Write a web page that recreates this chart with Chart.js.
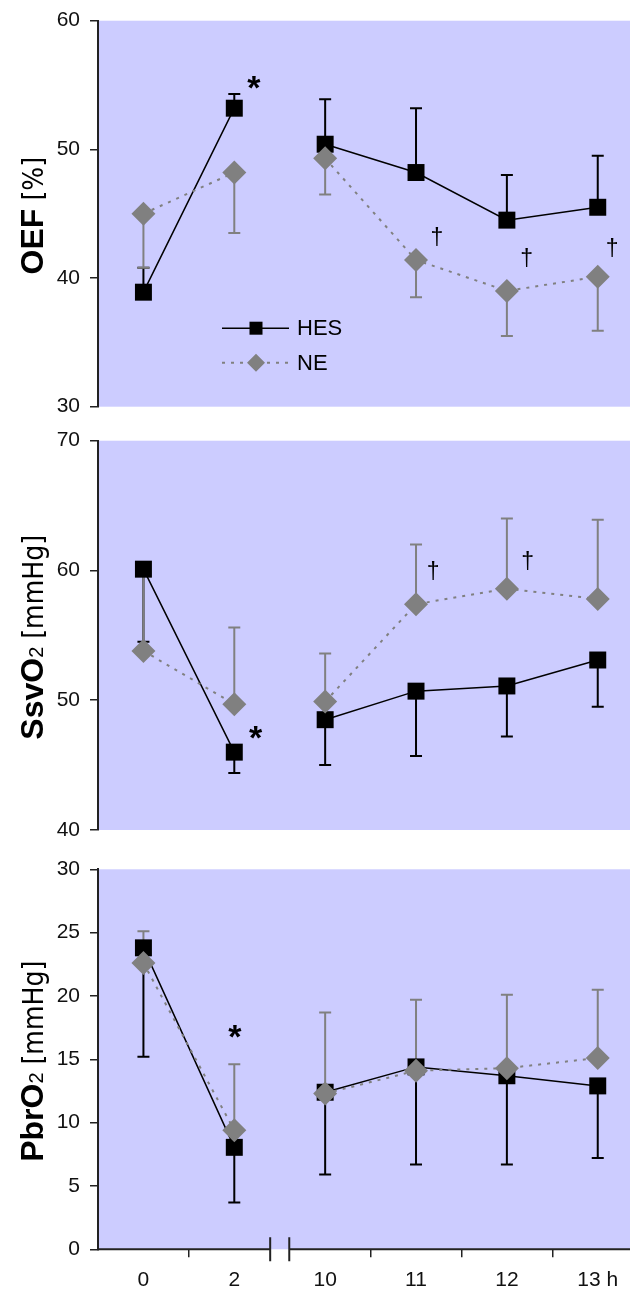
<!DOCTYPE html>
<html>
<head>
<meta charset="utf-8">
<script src="https://cdn.jsdelivr.net/npm/chart.js@4.4.0/dist/chart.umd.min.js"></script>
<style>
  html, body { margin: 0; padding: 0; background: #fff; overflow: hidden; }
  canvas { position: absolute; left: 0; display: block; }
</style>
</head>
<body>
<canvas id="oefChart" width="630" height="420" style="top:0"></canvas>
<canvas id="ssvChart" width="630" height="420" style="top:425px"></canvas>
<canvas id="pbrChart" width="630" height="442" style="top:850px"></canvas>
<script>
// time points (h); the axis is broken between "2" and "10"
const timeLabels = ["0", "2", "10", "11", "12", "13 h"];
const xTicks = [0, 0.5, 1, 2, 2.5, 3, 3.5, 4, 4.5, 5];

// OEF [%]
const oefHes    = [38.9, 53.2, 50.4, 48.2, 44.5, 45.5];
const oefHesBar = [40.8, 54.3, 53.9, 53.2, 48.0, 49.5];
const oefNe     = [45.0, 48.2, 49.3, 41.4, 39.0, 40.1];
const oefNeBar  = [40.8, 43.5, 46.5, 38.5, 35.5, 35.9];
const oefMarks  = [[1.22, 55.2, "*"], [3.23, 43.2, "†"], [4.22, 41.6, "†"], [5.16, 42.4, "†"]];

// SsvO2 [mmHg]
const ssvHes    = [60.1, 46.0, 48.5, 50.7, 51.1, 53.1];
const ssvHesBar = [54.5, 44.4, 45.0, 45.7, 47.2, 49.5];
const ssvNe     = [53.8, 49.7, 49.9, 57.4, 58.6, 57.8];
const ssvNeBar  = [59.6, 55.6, 53.6, 62.0, 64.0, 63.9];
const ssvMarks  = [[1.24, 47.5, "*"], [3.19, 60.0, "†"], [4.23, 60.8, "†"]];

// PbrO2 [mmHg]
const pbrHes    = [23.8, 8.05, 12.4, 14.4, 13.7, 12.9];
const pbrHesBar = [15.2, 3.7, 5.9, 6.7, 6.7, 7.2];
const pbrNe     = [22.6, 9.4, 12.3, 14.1, 14.3, 15.1];
const pbrNeBar  = [25.1, 14.6, 18.7, 19.7, 20.1, 20.5];
const pbrMarks  = [[1.01, 17.2, "*"]];

const BG = "#ccccff";
const AXIS = "#222";
const GREY = "#808080";
const TICK_FONT = { family: "'Liberation Sans', Arial, sans-serif", size: 21 };
const NARROW = "'Liberation Sans Narrow', 'DejaVu Sans Condensed', sans-serif";

// split the series at the axis break so the lines don't join 2 -> 10
function toPoints(vals) {
    const pts = [];
    vals.forEach((v, i) => {
        pts.push({ x: i, y: v });
        if (i === 1) pts.push({ x: 1.5, y: null });
    });
    return pts;
}

const panelPlugin = {
    id: "panel",
    beforeDraw(chart) {
        const a = chart.chartArea, ctx = chart.ctx;
        ctx.save();
        ctx.fillStyle = BG;
        ctx.fillRect(a.left, a.top, a.right - a.left, a.bottom - a.top);
        ctx.restore();
    },
    beforeDatasetsDraw(chart, args, opts) {
        const ctx = chart.ctx, xs = chart.scales.x, ys = chart.scales.y;
        ctx.save();
        opts.bars.forEach(b => {
            ctx.strokeStyle = b.color;
            ctx.lineWidth = 2;
            b.vals.forEach((v, i) => {
                const px = xs.getPixelForValue(i);
                const py = ys.getPixelForValue(v);
                const pe = ys.getPixelForValue(b.ends[i]);
                ctx.beginPath();
                ctx.moveTo(px, py); ctx.lineTo(px, pe);
                ctx.moveTo(px - 6, pe); ctx.lineTo(px + 6, pe);
                ctx.stroke();
            });
        });
        ctx.restore();
    },
    afterDatasetsDraw(chart, args, opts) {
        const ctx = chart.ctx, xs = chart.scales.x, ys = chart.scales.y;
        ctx.save();
        ctx.fillStyle = "#000";
        ctx.textBaseline = "alphabetic";
        ctx.textAlign = "left";
        opts.marks.forEach(([mx, my, t]) => {
            ctx.font = t === "*" ? "bold 34px 'Liberation Sans'" : "23px 'Liberation Sans'";
            const m = ctx.measureText(t);
            const cx = xs.getPixelForValue(mx), cy = ys.getPixelForValue(my);
            const w = m.actualBoundingBoxRight + m.actualBoundingBoxLeft;
            const h = m.actualBoundingBoxAscent + m.actualBoundingBoxDescent;
            ctx.fillText(t, cx - w / 2 + m.actualBoundingBoxLeft, cy - h / 2 + m.actualBoundingBoxAscent);
        });
        ctx.restore();
    },
    afterDraw(chart, args, opts) {
        const ctx = chart.ctx, a = chart.chartArea;
        ctx.save();
        // rotated y title with mixed fonts
        const parts = opts.title;
        let total = 0;
        parts.forEach(p => { ctx.font = p[1]; total += ctx.measureText(p[0]).width; });
        ctx.translate(43, (a.top + a.bottom) / 2 + 2);
        ctx.rotate(-Math.PI / 2);
        ctx.fillStyle = "#000";
        ctx.textBaseline = "alphabetic";
        let pos = -total / 2;
        parts.forEach(p => {
            ctx.font = p[1];
            ctx.fillText(p[0], pos, 0);
            pos += ctx.measureText(p[0]).width;
        });
        ctx.restore();

        if (opts.legend) {
            ctx.save();
            const lx = a.left + 124, rows = [[a.top + 307.5, "HES"], [a.top + 342, "NE"]];
            rows.forEach(([ly, name], k) => {
                ctx.beginPath();
                ctx.lineWidth = k ? 2 : 1.5;
                ctx.strokeStyle = k ? GREY : "#000";
                ctx.setLineDash(k ? [3, 6] : []);
                ctx.moveTo(lx, ly); ctx.lineTo(lx + 67, ly);
                ctx.stroke();
                ctx.setLineDash([]);
                ctx.fillStyle = k ? GREY : "#000";
                const mx = lx + 34;
                ctx.beginPath();
                if (k) {
                    ctx.moveTo(mx - 9, ly); ctx.lineTo(mx, ly - 9);
                    ctx.lineTo(mx + 9, ly); ctx.lineTo(mx, ly + 9);
                } else {
                    ctx.rect(mx - 6.5, ly - 6.5, 13, 13);
                }
                ctx.fill();
                ctx.fillStyle = "#000";
                ctx.font = "22px 'Liberation Sans'";
                ctx.textBaseline = "middle";
                ctx.fillText(name, lx + 75, ly + 1);
            });
            ctx.restore();
        }

        if (opts.showX) {
            // x axis line with a break between 2 and 10
            const xs = chart.scales.x;
            const b1 = xs.getPixelForValue(1.395), b2 = xs.getPixelForValue(1.605);
            ctx.save();
            ctx.strokeStyle = AXIS;
            ctx.lineWidth = 2;
            ctx.beginPath();
            ctx.moveTo(a.left - 1, a.bottom); ctx.lineTo(b1, a.bottom);
            ctx.moveTo(b2, a.bottom); ctx.lineTo(a.right, a.bottom);
            ctx.moveTo(b1, a.bottom - 12); ctx.lineTo(b1, a.bottom + 12);
            ctx.moveTo(b2, a.bottom - 12); ctx.lineTo(b2, a.bottom + 12);
            ctx.stroke();
            ctx.restore();
        }
    }
};

function makeChart(id, c) {
    new Chart(document.getElementById(id), {
        type: "line",
        data: {
            datasets: [
                {
                    label: "NE",
                    data: toPoints(c.ne),
                    borderColor: GREY,
                    borderWidth: 2,
                    borderDash: [3, 6],
                    backgroundColor: GREY,
                    pointStyle: "rectRot",
                    pointRadius: 12,
                    pointBorderWidth: 0,
                    spanGaps: false,
                    clip: false,
                    order: 0
                },
                {
                    label: "HES",
                    data: toPoints(c.hes),
                    borderColor: "#000",
                    borderWidth: 1.5,
                    backgroundColor: "#000",
                    pointStyle: "rect",
                    pointRadius: 12,
                    pointBorderWidth: 0,
                    spanGaps: false,
                    clip: false,
                    order: 1
                }
            ]
        },
        options: {
            animation: false,
            responsive: false,
            devicePixelRatio: 1,
            events: [],
            layout: { autoPadding: false, padding: { top: c.top, bottom: c.bottom, left: 0, right: 0 } },
            scales: {
                x: {
                    type: "linear",
                    min: -0.5,
                    max: 5.355,
                    display: c.showX,
                    afterBuildTicks: s => { s.ticks = xTicks.map(v => ({ value: v })); },
                    afterFit: s => { s.height = c.showX ? 42.7 : 0; s.paddingLeft = 0; s.paddingRight = 0; },
                    ticks: {
                        autoSkip: false,
                        maxRotation: 0,
                        padding: 10,
                        color: "#111",
                        font: TICK_FONT,
                        callback: v => Number.isInteger(v) ? timeLabels[v] : ""
                    },
                    grid: {
                        drawOnChartArea: false,
                        tickLength: 8,
                        lineWidth: 1.5,
                        tickColor: ctx => Number.isInteger(ctx.tick.value) ? "rgba(0,0,0,0)" : AXIS
                    },
                    border: { display: false }
                },
                y: {
                    min: c.min,
                    max: c.max,
                    afterFit: s => { s.width = 98; s.paddingTop = 0; s.paddingBottom = 0; },
                    ticks: { stepSize: c.step, padding: 10, color: "#111", font: TICK_FONT },
                    grid: { drawOnChartArea: false, tickLength: 8, lineWidth: 1.5, color: AXIS },
                    border: { display: true, color: AXIS, width: 2 }
                }
            },
            plugins: {
                legend: { display: false },
                tooltip: { enabled: false },
                panel: {
                    title: c.title,
                    bars: [
                        { vals: c.hes, ends: c.hesBar, color: "#000" },
                        { vals: c.ne, ends: c.neBar, color: GREY }
                    ],
                    marks: c.marks,
                    legend: c.legend,
                    showX: c.showX
                }
            }
        },
        plugins: [panelPlugin]
    });
}

const BOLD = "bold 32px 'Liberation Sans', Arial, sans-serif";
const SUB = "20px 'Liberation Sans', Arial, sans-serif";
const UNIT = "28px " + NARROW;

makeChart("oefChart", {
    hes: oefHes, hesBar: oefHesBar, ne: oefNe, neBar: oefNeBar, marks: oefMarks,
    min: 30, max: 60, step: 10, top: 20.7, bottom: 13.3, showX: false, legend: true,
    title: [["OEF", BOLD], [" [%]", UNIT]]
});
makeChart("ssvChart", {
    hes: ssvHes, hesBar: ssvHesBar, ne: ssvNe, neBar: ssvNeBar, marks: ssvMarks,
    min: 40, max: 70, step: 10, top: 15.7, bottom: 15, showX: false, legend: false,
    title: [["SsvO", BOLD], ["2", SUB], [" [mmHg]", UNIT]]
});
makeChart("pbrChart", {
    hes: pbrHes, hesBar: pbrHesBar, ne: pbrNe, neBar: pbrNeBar, marks: pbrMarks,
    min: 0, max: 30, step: 5, top: 19.3, bottom: 0, showX: true, legend: false,
    title: [["PbrO", BOLD], ["2", SUB], [" [mmHg]", UNIT]]
});
</script>
</body>
</html>
